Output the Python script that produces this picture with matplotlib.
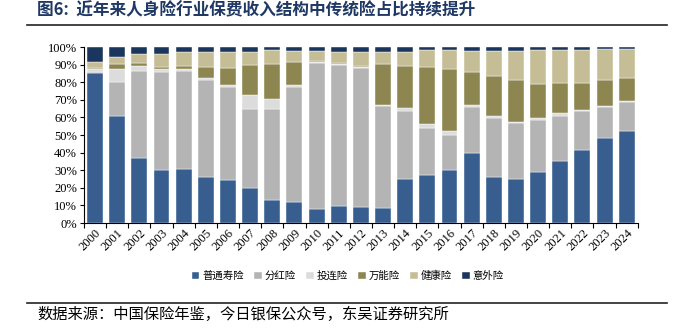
import numpy as np
import matplotlib
matplotlib.use("Agg")
from matplotlib import pyplot as plt
from matplotlib.lines import Line2D
from matplotlib.ticker import FixedLocator, NullFormatter, PercentFormatter

plt.rcParams['font.family'] = ['Noto Sans CJK SC', 'DejaVu Sans']

years = [str(y) for y in range(2000, 2025)]

# shares of premium income, %
ordinary = [85.2, 61.0, 36.9, 29.9, 30.9, 26.1, 24.4, 19.9, 13.3, 12.1, 8.0, 9.5, 9.1,
            8.3, 25.2, 27.5, 30.1, 39.8, 26.3, 25.2, 29.0, 35.0, 41.3, 48.5, 52.1]
dividend = [0.6, 18.9, 49.7, 55.9, 55.5, 55.3, 52.7, 44.9, 51.5, 65.2, 82.7, 80.3, 79.2,
            58.2, 38.4, 26.5, 19.9, 26.1, 33.5, 31.6, 29.7, 25.8, 22.5, 17.4, 16.8]
linked = [2.0, 7.6, 2.4, 1.9, 1.1, 1.2, 1.3, 7.9, 5.8, 1.3, 0.6, 0.4, 0.3,
          0.4, 1.7, 2.4, 2.5, 1.1, 0.8, 0.8, 1.1, 1.5, 0.6, 0.6, 0.6]
universal = [0.5, 2.7, 1.9, 0.7, 1.5, 6.0, 9.9, 17.1, 19.9, 12.7, 0.6, 0.5, 0.6,
             23.4, 23.9, 32.4, 35.0, 18.6, 23.1, 23.7, 19.4, 17.4, 15.1, 14.6, 12.7]
health = [3.2, 4.1, 5.3, 7.8, 8.2, 8.6, 9.0, 7.4, 7.6, 6.4, 5.6, 6.5, 7.8,
          7.0, 8.1, 9.3, 10.8, 12.3, 14.0, 16.6, 18.9, 18.6, 19.0, 17.6, 16.7]
accident = [8.5, 5.7, 3.8, 3.8, 2.8, 2.8, 2.7, 2.8, 1.9, 2.3, 2.5, 2.8, 3.0,
            2.7, 2.7, 1.9, 1.7, 2.1, 2.3, 2.1, 1.9, 1.7, 1.5, 1.3, 1.1]

series = [ordinary, dividend, linked, universal, health, accident]
names = ['普通寿险', '分红险', '投连险', '万能险', '健康险', '意外险']
colors = ['#375E8F', '#B4B4B4', '#DCDCDC', '#8E8651', '#C5BD95', '#1A365D']

fig = plt.figure(figsize=(6.85, 3.36), dpi=100)
ax = fig.add_axes([0.1226, 0.3363, 0.8085, 0.5237])

x = np.arange(len(years))
bottom = np.zeros(len(years))
handles = []
for vals, name, c in zip(series, names, colors):
    vals = np.array(vals)
    h = ax.bar(x, vals, width=0.72, bottom=bottom, color=c, edgecolor='white',
               linewidth=0.3, label=name)
    handles.append(h)
    bottom = bottom + vals

ax.set_xlim(-0.5, len(years) - 0.5)
ax.set_ylim(0, 100)
ax.yaxis.set_major_locator(FixedLocator(np.arange(0, 101, 10)))
ax.yaxis.set_major_formatter(PercentFormatter(decimals=0))

# tick marks between bars, labels under bars
ax.xaxis.set_major_locator(FixedLocator(np.arange(-0.5, len(years), 1)))
ax.xaxis.set_major_formatter(NullFormatter())
ax.set_xticks(x, minor=True)
ax.set_xticklabels(years, minor=True, rotation=45, ha='right', rotation_mode='anchor',
                   family='Liberation Serif', fontsize=9)
ax.tick_params(axis='x', which='minor', length=0, pad=3)
ax.tick_params(axis='x', which='major', length=3.5, width=0.8, direction='out')
ax.tick_params(axis='y', length=3, width=0.8, pad=2)
for lab in ax.get_yticklabels():
    lab.set_family('Liberation Serif')
    lab.set_fontsize(9)

for s in ['top', 'right']:
    ax.spines[s].set_visible(False)
for s in ['left', 'bottom']:
    ax.spines[s].set_linewidth(0.8)

fig.legend(handles=handles, labels=names, loc='center', bbox_to_anchor=(0.508, 0.179),
           ncol=6, frameon=False, fontsize=7.5, handlelength=0.7, handleheight=0.7,
           handletextpad=0.3, columnspacing=1.0)

fig.text(0.054, 0.970, '图6:  近年来人身险行业保费收入结构中传统险占比持续提升',
         fontsize=12, fontweight='bold', color='#1F3864', va='center', ha='left')
fig.add_artist(Line2D([0.039, 0.974], [0.927, 0.927], color='#222222', linewidth=1.2))
fig.add_artist(Line2D([0.039, 0.974], [0.099, 0.099], color='#222222', linewidth=1.2))
fig.text(0.054, 0.065, '数据来源：中国保险年鉴，今日银保公众号，东吴证券研究所',
         fontsize=11, color='black', va='center', ha='left')

fig.savefig('out.png', dpi=100)
